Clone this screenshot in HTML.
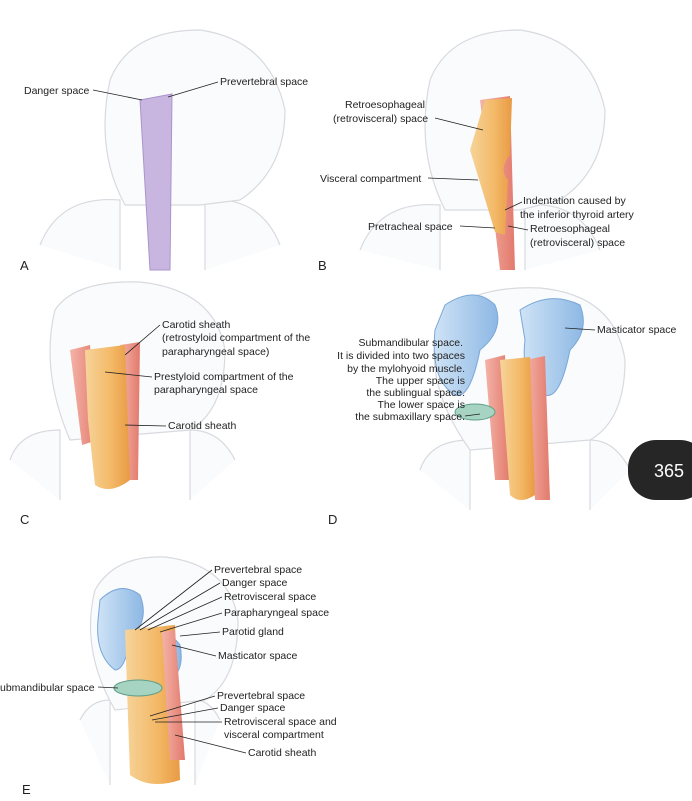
<!DOCTYPE html>
<html><head><meta charset="utf-8"><style>
body{margin:0;background:#fff;}
svg{display:block;font-family:"Liberation Sans",sans-serif;font-size:10.5px;fill:#222;}
.h{fill:#fafbfc;stroke:#d8dadf;stroke-width:1.2}
.l{stroke:#222;stroke-width:0.8;fill:none}
.L{font-size:13px}
</style></head><body>
<svg width="692" height="801" viewBox="0 0 692 801">
<defs>
<linearGradient id="or" x1="0" x2="1"><stop offset="0" stop-color="#f6d49a"/><stop offset="0.6" stop-color="#f3b866"/><stop offset="1" stop-color="#e99a44"/></linearGradient>
<linearGradient id="rd" x1="0" x2="1"><stop offset="0" stop-color="#f4b3a8"/><stop offset="1" stop-color="#e27a6c"/></linearGradient>
<linearGradient id="bl" x1="0" x2="1"><stop offset="0" stop-color="#cfe3f6"/><stop offset="1" stop-color="#8db8e4"/></linearGradient>
</defs>
<!-- A -->
<path class="h" d="M120 270 L120 200 Q60 195 40 245 M280 245 Q260 195 205 200 L205 270"/>
<path class="h" d="M125 205 Q95 150 110 80 Q130 30 200 30 Q270 40 285 110 Q285 170 240 200 L200 205 Z"/>
<path d="M140 100 L172 94 L170 270 L150 270 Z" fill="#c9b6e0" stroke="#a994cc"/>
<text x="24" y="94">Danger space</text><path class="l" d="M93 90 L142 100"/>
<text x="220" y="85">Prevertebral space</text><path class="l" d="M218 82 L168 97"/>
<text x="20" y="270" class="L">A</text>
<!-- B -->
<path class="h" d="M440 270 L440 205 Q380 200 360 250 M600 250 Q580 200 525 205 L525 270"/>
<path class="h" d="M445 210 Q415 150 430 80 Q450 30 520 30 Q590 40 605 110 Q605 170 560 200 L520 210 Z"/>
<path d="M480 100 L510 96 L515 270 L500 270 Z" fill="url(#rd)"/>
<path d="M485 100 L512 98 L510 155 Q498 170 508 180 L505 235 L495 232 L470 150 Z" fill="url(#or)"/>
<text x="345" y="108">Retroesophageal</text><text x="333" y="122">(retrovisceral) space</text><path class="l" d="M435 118 L483 130"/>
<text x="320" y="182">Visceral compartment</text><path class="l" d="M428 178 L478 180"/>
<text x="523" y="204">Indentation caused by</text><text x="520" y="218">the inferior thyroid artery</text><path class="l" d="M522 202 L505 210"/>
<text x="368" y="230">Pretracheal space</text><path class="l" d="M460 226 L495 228"/>
<text x="530" y="232">Retroesophageal</text><text x="530" y="246">(retrovisceral) space</text><path class="l" d="M528 230 L508 226"/>
<text x="318" y="270" class="L">B</text>
<!-- C -->
<path class="h" d="M60 500 L60 430 Q20 430 10 460 M235 460 Q220 430 190 430 L190 500"/>
<path class="h" d="M70 440 Q40 370 55 310 Q75 280 140 282 Q215 290 225 350 Q225 410 190 430 Z"/>
<path d="M70 350 L90 345 L98 440 L82 445 Z" fill="url(#rd)"/>
<path d="M120 345 L140 342 L138 480 L125 480 Z" fill="url(#rd)"/>
<path d="M85 350 L125 345 L130 480 Q110 495 95 485 L88 420 Z" fill="url(#or)"/>
<text x="162" y="328">Carotid sheath</text><text x="162" y="341">(retrostyloid compartment of the</text><text x="162" y="355">parapharyngeal space)</text><path class="l" d="M160 325 L125 355"/>
<text x="154" y="380">Prestyloid compartment of the</text><text x="154" y="393">parapharyngeal space</text><path class="l" d="M152 377 L105 372"/>
<text x="168" y="429">Carotid sheath</text><path class="l" d="M166 426 L125 425"/>
<text x="20" y="524" class="L">C</text>
<!-- D -->
<path class="h" d="M470 510 L470 440 Q430 440 420 470 M630 470 Q615 440 590 440 L590 510"/>
<path class="h" d="M470 450 Q420 380 440 320 Q470 285 540 288 Q615 295 625 360 Q625 420 590 440 Z"/>
<path d="M445 305 Q475 285 495 305 Q505 330 480 350 Q470 400 455 395 Q430 380 435 330 Z" fill="url(#bl)" stroke="#7aa7d8"/>
<path d="M520 310 Q550 290 580 305 Q590 330 570 350 Q560 400 545 395 Q520 380 525 340 Z" fill="url(#bl)" stroke="#7aa7d8"/>
<path d="M485 360 L505 355 L510 480 L495 480 Z" fill="url(#rd)"/>
<path d="M525 360 L545 356 L550 500 L535 500 Z" fill="url(#rd)"/>
<path d="M500 360 L530 357 L535 495 Q520 505 510 495 Z" fill="url(#or)"/>
<ellipse cx="475" cy="412" rx="20" ry="8" fill="#a7d3c3" stroke="#5e9f87"/>
<g text-anchor="end"><text x="463" y="346">Submandibular space.</text><text x="465" y="359">It is divided into two spaces</text><text x="465" y="372">by the mylohyoid muscle.</text><text x="465" y="384">The upper space is</text><text x="465" y="396">the sublingual space.</text><text x="465" y="408">The lower space is</text><text x="465" y="420">the submaxillary space.</text></g>
<path class="l" d="M465 416 L480 414"/>
<text x="597" y="333">Masticator space</text><path class="l" d="M595 330 L565 328"/>
<text x="328" y="524" class="L">D</text>
<rect x="628" y="440" width="80" height="60" rx="28" fill="#262626"/>
<text x="654" y="477" style="fill:#fff;font-size:18px">365</text>
<!-- E -->
<path class="h" d="M110 785 L110 700 Q90 700 80 720 M220 720 Q210 700 195 700 L195 785"/>
<path class="h" d="M115 710 Q80 650 95 590 Q115 555 165 557 Q230 565 238 620 Q238 680 205 700 Z"/>
<path d="M100 600 Q120 580 140 595 Q150 620 130 640 Q125 670 115 670 Q95 655 98 620 Z" fill="url(#bl)" stroke="#7aa7d8"/>
<path d="M150 640 Q170 630 180 645 Q185 670 170 680 Q160 700 152 690 Q140 670 148 650 Z" fill="url(#bl)" stroke="#7aa7d8"/>
<path d="M125 630 L175 625 L180 780 Q150 790 130 775 Z" fill="url(#or)"/>
<path d="M162 632 L175 630 L185 760 L170 760 Z" fill="url(#rd)"/>
<ellipse cx="138" cy="688" rx="24" ry="8" fill="#a7d3c3" stroke="#5e9f87"/>
<text x="214" y="573">Prevertebral space</text><text x="222" y="586">Danger space</text><text x="224" y="600">Retrovisceral space</text><text x="224" y="616">Parapharyngeal space</text><text x="222" y="635">Parotid gland</text><text x="218" y="659">Masticator space</text>
<path class="l" d="M212 570 L135 630 M220 583 L140 630 M222 597 L148 630 M222 613 L160 632 M220 632 L180 636 M216 656 L172 645"/>
<text x="0" y="691">ubmandibular space</text><path class="l" d="M98 687 L118 688"/>
<text x="217" y="699">Prevertebral space</text><text x="220" y="711">Danger space</text><text x="224" y="725">Retrovisceral space and</text><text x="224" y="738">visceral compartment</text><text x="248" y="756">Carotid sheath</text>
<path class="l" d="M215 696 L150 716 M218 708 L152 720 M222 722 L155 722 M246 753 L175 735"/>
<text x="22" y="794" class="L">E</text>
</svg>
</body></html>
